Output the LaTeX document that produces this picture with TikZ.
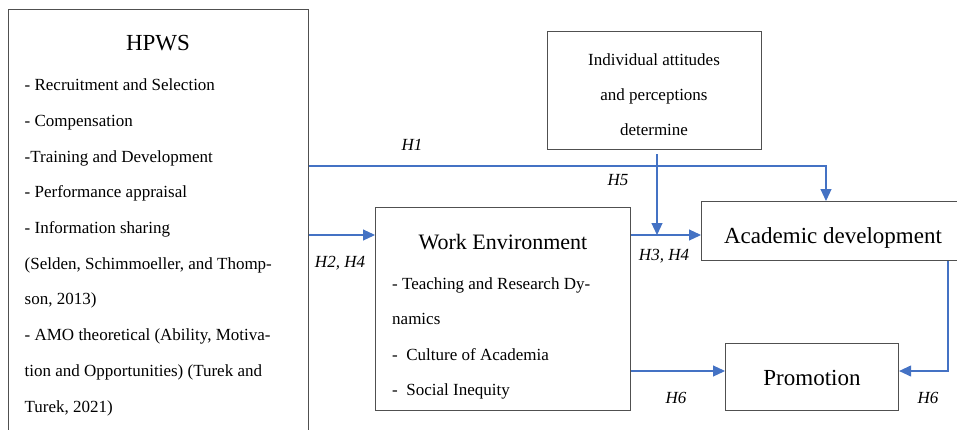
\documentclass[tikz,border=0pt]{standalone}
\usepackage{fontspec}
\setmainfont{Liberation Serif}
\usetikzlibrary{arrows.meta}
\definecolor{linkblue}{RGB}{68,114,196}
\definecolor{boxgray}{RGB}{80,80,80}
\begin{document}
\begin{tikzpicture}[x=1pt,y=-1pt,
  box/.style={draw=boxgray,line width=1.1pt,rectangle,inner sep=0pt,anchor=north west},
  body/.style={font=\fontsize{17}{20}\selectfont,inner sep=0pt},
  title/.style={font=\fontsize{23}{26}\selectfont,inner sep=0pt,anchor=base},
  hyp/.style={font=\fontsize{17}{20}\selectfont\itshape,inner sep=0pt,anchor=base},
  link/.style={draw=linkblue,line width=1.1pt,-{Triangle[length=12pt,width=11pt]}}]
\useasboundingbox (0,0) rectangle (957,429);
\clip (0,0) rectangle (957,429);
\fill[white] (0,0) rectangle (957,429);

% helper rows and columns for the connector routes
\coordinate (r1) at (0,166);
\coordinate (r2) at (0,235);
\coordinate (r6) at (0,371);
\coordinate (c1) at (826,0);
\coordinate (c5) at (657,0);
\coordinate (c6) at (948,0);

% boxes
\node[box,minimum width=300pt,minimum height=440pt] (hpws) at (8,9) {};
\node[box,minimum width=214pt,minimum height=118pt] (ind) at (547,31) {};
\node[box,minimum width=255pt,minimum height=203pt] (we) at (375,207) {};
\node[box,minimum width=270pt,minimum height=59pt] (ad) at (701,201) {};
\node[box,minimum width=173pt,minimum height=67pt] (pro) at (725,343) {};

% titles
\node[title] (hpws-t) at (158,50.7) {HPWS};
\node[title,font=\fontsize{22}{26}\selectfont] (we-t) at (503,249) {Work Environment};
\node[title] (ad-t) at (833,243) {Academic development};
\node[title] (pro-t) at (812,385) {Promotion};

% HPWS practices
\node[body,anchor=base west] (hp1) at (24.5,90.7) {- Recruitment and Selection};
\node[body,anchor=base west] (hp2) at (24.5,126.4) {- Compensation};
\node[body,anchor=base west] (hp3) at (24.5,162.1) {-Training and Development};
\node[body,anchor=base west] (hp4) at (24.5,197.8) {- Performance appraisal};
\node[body,anchor=base west] (hp5) at (24.5,233.5) {- Information sharing};
\node[body,anchor=base west] (hp6) at (24.5,269.2) {(Selden, Schimmoeller, and Thomp-};
\node[body,anchor=base west] (hp7) at (24.5,304.9) {son, 2013)};
\node[body,anchor=base west] (hp8) at (24.5,340.6) {- AMO theoretical (Ability, Motiva-};
\node[body,anchor=base west] (hp9) at (24.5,376.3) {tion and Opportunities) (Turek and};
\node[body,anchor=base west] (hp10) at (24.5,412) {Turek, 2021)};

% work environment items
\node[body,anchor=base west] (we1) at (392,289) {- Teaching and Research Dy-};
\node[body,anchor=base west] (we2) at (392,324) {namics};
\node[body,anchor=base west] (we3) at (392,360) {-~~Culture of Academia};
\node[body,anchor=base west] (we4) at (392,395) {-~~Social Inequity};

% moderator text
\node[body,anchor=base] (ind1) at (654,65.7) {Individual attitudes};
\node[body,anchor=base] (ind2) at (654,100.5) {and perceptions};
\node[body,anchor=base] (ind3) at (654,135) {determine};

% hypothesis labels
\node[hyp] (h1) at (412,150) {H1};
\node[hyp] (h5) at (618,185) {H5};
\node[hyp] (h24) at (340,267) {H2, H4};
\node[hyp] (h34) at (664,260) {H3, H4};
\node[hyp] (h6a) at (676,403) {H6};
\node[hyp] (h6b) at (928,403) {H6};

% connectors
\draw[link] (hpws.east |- r1) -| (ad.north -| c1);
\draw[link] (hpws.east |- r2) -- (we.west |- r2);
\draw[link] (we.east |- r2) -- (ad.west |- r2);
\coordinate (mod) at (c5 |- r2);
\draw[link,shorten <=4pt] (ind.south -| c5) -- (mod);
\draw[link] (we.east |- r6) -- (pro.west |- r6);
\draw[link] (ad.south -| c6) |- (pro.east |- r6);
\end{tikzpicture}
\end{document}
